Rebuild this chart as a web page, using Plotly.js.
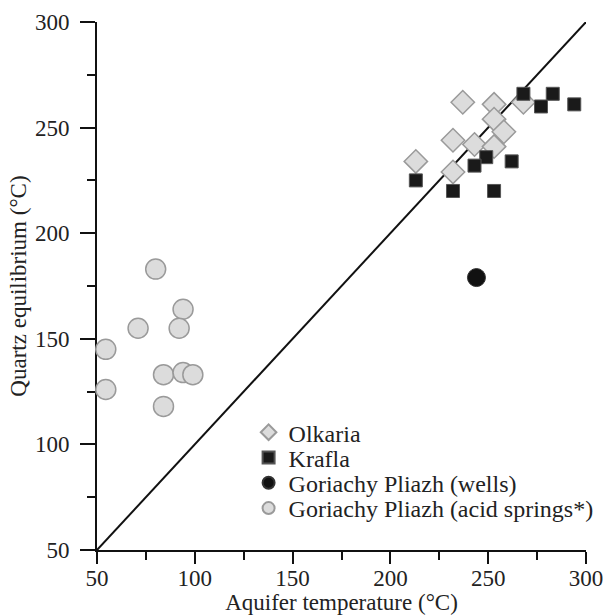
<!DOCTYPE html>
<html>
<head>
<meta charset="utf-8">
<script src="https://cdn.plot.ly/plotly-3.0.1.min.js"></script>
<style>html,body{margin:0;padding:0;background:#fff;}#chart{width:607px;height:615px;}</style>
</head>
<body>
<div id="chart"></div>
<script>
// Olkaria
const olkariaX = [237, 253, 268, 253, 258, 232, 243, 253, 213, 232];
const olkariaY = [262, 261, 262, 254, 248, 244, 242, 241, 234, 229];
// Krafla
const kraflaX = [268, 283, 277, 294, 249, 243, 262, 213, 232, 253];
const kraflaY = [266, 266, 260, 261, 236, 232, 234, 225, 220, 220];
// Goriachy Pliazh (wells)
const wellsX = [244];
const wellsY = [179];
// Goriachy Pliazh (acid springs*)
const springsX = [80, 94, 71, 92, 54.5, 84, 94, 99, 54.5, 84];
const springsY = [183, 164, 155, 155, 145, 133, 134, 133, 126, 118];
// 1:1 line
const lineX = [50, 300];
const lineY = [50, 300];
const tickVals = [50, 100, 150, 200, 250, 300];

const font = '"Liberation Serif", "Times New Roman", serif';
const LEGEND_SPACING = 25.3;

const traces = [
  {x: lineX, y: lineY, mode: 'lines', line: {color: '#111', width: 2}, showlegend: false, hoverinfo: 'skip', cliponaxis: false},
  {x: springsX, y: springsY, mode: 'markers', name: 'Goriachy Pliazh (acid springs*)', cliponaxis: false, legendrank: 4,
   marker: {symbol: 'circle', size: 20, color: '#dcdcdc', line: {color: '#9a9a9a', width: 1.5}}},
  {x: olkariaX, y: olkariaY, mode: 'markers', name: 'Olkaria', cliponaxis: false, legendrank: 1,
   marker: {symbol: 'diamond', size: 18, color: '#dcdcdc', line: {color: '#9a9a9a', width: 1.5}}},
  {x: kraflaX, y: kraflaY, mode: 'markers', name: 'Krafla', cliponaxis: false, legendrank: 2,
   marker: {symbol: 'square', size: 13, color: '#1a1a1a', line: {color: '#555', width: 1}}},
  {x: wellsX, y: wellsY, mode: 'markers', name: 'Goriachy Pliazh (wells)', cliponaxis: false, legendrank: 3,
   marker: {symbol: 'circle', size: 18, color: '#111', line: {color: '#333', width: 1}}}
];

const axisBase = {
  range: [50, 300], tickvals: tickVals, showgrid: false, zeroline: false,
  showline: true, linecolor: '#111', linewidth: 2, ticks: 'outside', ticklen: 12, tickwidth: 2, tickcolor: '#111',
  minor: {dtick: 25, tick0: 25, ticks: 'outside', ticklen: 8, tickwidth: 2, tickcolor: '#111'},
  tickfont: {family: font, size: 23, color: '#222'}, layer: 'below traces', fixedrange: true, automargin: false
};

const layout = {
  width: 607, height: 615,
  margin: {l: 97, r: 21, t: 22, b: 65, autoexpand: false},
  paper_bgcolor: '#fff', plot_bgcolor: '#fff',
  showlegend: true,
  legend: {x: 0.31, y: 0.265, xanchor: 'left', yanchor: 'top', traceorder: 'normal',
           font: {family: font, size: 24, color: '#222'}, bgcolor: 'rgba(0,0,0,0)', itemsizing: 'constant', itemwidth: 30, tracegroupgap: 0},
  xaxis: Object.assign({}, axisBase, {ticklabelstandoff: -6, title: {text: 'Aquifer temperature (°C)', font: {family: font, size: 23, color: '#222'}, standoff: 6}}),
  yaxis: Object.assign({}, axisBase, {ticklen: 15, ticklabelstandoff: 6, title: {text: 'Quartz equilibrium (°C)', font: {family: font, size: 23, color: '#222'}, standoff: 2}})
};

Plotly.newPlot('chart', traces, layout, {displayModeBar: false, staticPlot: true}).then(gd => {
  // tighten the legend's line spacing to match the original figure
  const items = Array.from(gd.querySelectorAll('g.legend g.traces'));
  const parse = el => {
    const m = /translate\(\s*([-\d.e]+)[ ,]+([-\d.e]+)/.exec(el.getAttribute('transform') || '');
    return m ? [parseFloat(m[1]), parseFloat(m[2])] : [0, 0];
  };
  const info = items.map(el => ({el, t: parse(el)})).sort((a, b) => a.t[1] - b.t[1]);
  if (!info.length) return;
  const y0 = info[0].t[1];
  info.forEach((o, i) => o.el.setAttribute('transform', 'translate(' + o.t[0] + ',' + (y0 + i * LEGEND_SPACING) + ')'));
});
</script>
</body>
</html>
